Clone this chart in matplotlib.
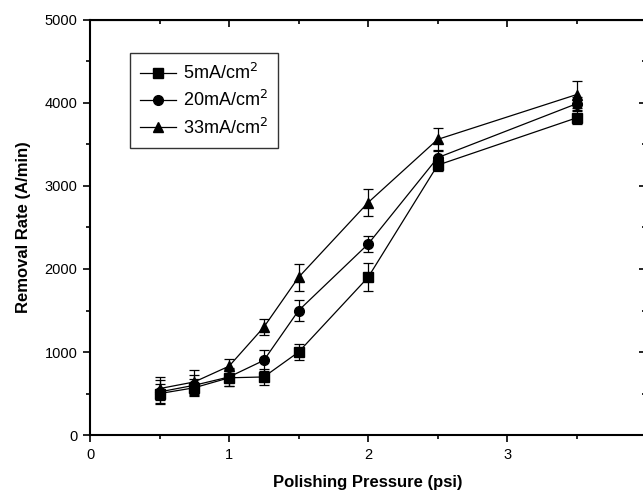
import matplotlib
matplotlib.use("Agg")
import matplotlib.pyplot as plt
from matplotlib.ticker import MultipleLocator, FuncFormatter
from matplotlib.lines import Line2D

plt.rcParams['font.family'] = ['Liberation Sans', 'DejaVu Sans']

pressure = [0.5, 0.75, 1.0, 1.25, 1.5, 2.0, 2.5, 3.5]
rate_5 = [500, 570, 690, 700, 1000, 1900, 3250, 3820]
err_5 = [110, 100, 100, 100, 100, 170, 70, 80]
rate_20 = [520, 600, 700, 900, 1500, 2300, 3340, 3990]
err_20 = [140, 120, 110, 130, 130, 100, 90, 80]
rate_33 = [560, 640, 830, 1300, 1900, 2800, 3560, 4100]
err_33 = [140, 140, 90, 100, 160, 160, 140, 160]
labels = ['5mA/cm$^2$', '20mA/cm$^2$', '33mA/cm$^2$']
markers = ['s', 'o', '^']

fig = plt.figure(figsize=(6.43, 4.95), dpi=100)
ax = fig.add_axes([0.140, 0.121, 0.865, 0.839])

handles = []
for y, e, m, lab in zip([rate_5, rate_20, rate_33], [err_5, err_20, err_33], markers, labels):
    ax.errorbar(pressure, y, yerr=e, color='black', marker=m, markersize=7,
                linewidth=0.9, elinewidth=0.9, capsize=3.5, capthick=0.9)
    handles.append(Line2D([], [], color='black', marker=m, markersize=7,
                          linewidth=0.9, label=lab))

ax.set_xlim(0, 4)
ax.set_ylim(0, 5000)
ax.xaxis.set_major_locator(MultipleLocator(1))
ax.xaxis.set_minor_locator(MultipleLocator(0.5))
ax.xaxis.set_major_formatter(FuncFormatter(lambda v, p: '' if v > 3.5 else f'{v:.0f}'))
ax.yaxis.set_major_locator(MultipleLocator(1000))
ax.yaxis.set_minor_locator(MultipleLocator(500))
ax.tick_params(which='both', direction='out', width=1.2, labelsize=10.5)
ax.tick_params(which='major', length=5, pad=4)
ax.tick_params(which='minor', length=3)
for s in ax.spines.values():
    s.set_linewidth(1.5)

# inward ticks on top and right
secx = ax.secondary_xaxis('top')
secx.xaxis.set_major_locator(MultipleLocator(1))
secx.xaxis.set_minor_locator(MultipleLocator(0.5))
secx.tick_params(which='both', direction='in', labeltop=False, width=1.2)
secx.tick_params(which='major', length=5)
secx.tick_params(which='minor', length=3)
secy = ax.secondary_yaxis('right')
secy.yaxis.set_major_locator(MultipleLocator(1000))
secy.yaxis.set_minor_locator(MultipleLocator(500))
secy.tick_params(which='both', direction='in', labelright=False, width=1.2)
secy.tick_params(which='major', length=5)
secy.tick_params(which='minor', length=3)

ax.set_xlabel('Polishing Pressure (psi)', fontsize=12, fontweight='bold', labelpad=10)
ax.set_ylabel('Removal Rate (A/min)', fontsize=12, fontweight='bold', labelpad=10)

leg = ax.legend(handles=handles, loc='upper left', bbox_to_anchor=(0.072, 0.92), fontsize=13,
                frameon=True, fancybox=False, edgecolor='black', handlelength=2.0,
                borderpad=0.55, labelspacing=0.4, handletextpad=0.4, borderaxespad=0)
leg.get_frame().set_linewidth(1.0)

fig.savefig('out.png', dpi=100)
